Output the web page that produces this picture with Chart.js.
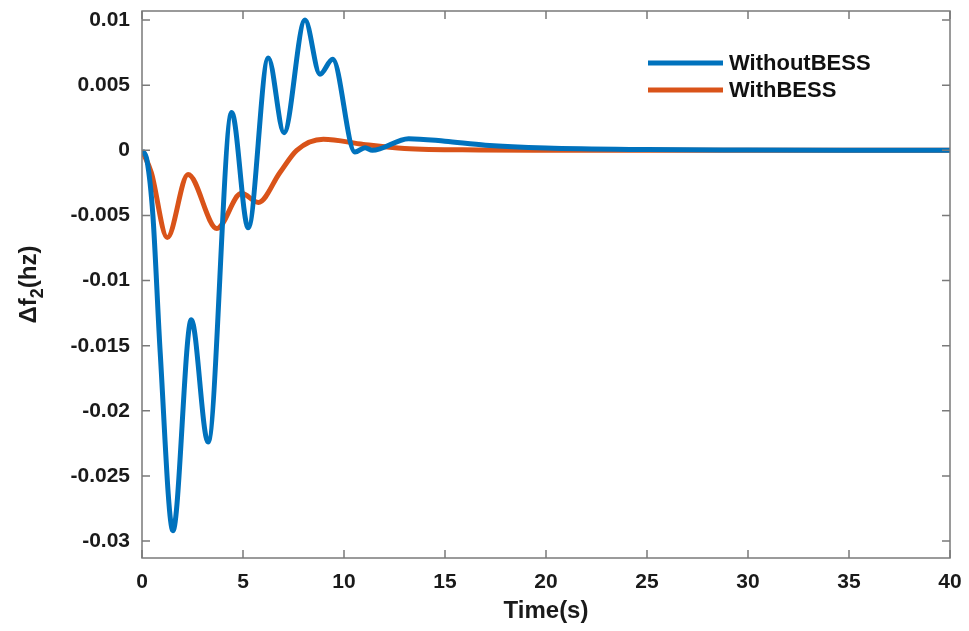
<!DOCTYPE html>
<html>
<head>
<meta charset="utf-8">
<script src="https://cdn.jsdelivr.net/npm/chart.js@4/dist/chart.umd.min.js"></script>
<style>
  html, body { margin: 0; padding: 0; background: #fff; }
  .chart_wrap { width: 969px; height: 631px; position: relative; }
</style>
</head>
<body>
<div class="chart_wrap"><canvas id="chart_freq"></canvas></div>
<script>
// time (s) and delta f2 (hz)
const tWithout = [0, 0.25, 0.54, 0.9, 1.53, 2.44, 3.27, 4.44, 5.26, 6.25, 7.03, 8.07, 8.81, 9.44, 10.54, 11.04, 11.4, 13.2, 15, 17, 20, 25, 30, 35, 40];
const vWithout = [0, -0.0008, -0.005, -0.0155, -0.0292, -0.013, -0.0224, 0.0029, -0.00595, 0.0071, 0.00136, 0.0100, 0.00585, 0.0070, -0.00013, 0.0002, 0.0, 0.0009, 0.0007, 0.0004, 0.00018, 0.00006, 0.00002, 0, 0];

const tWith = [0, 0.46, 1.25, 2.28, 3.71, 4.92, 5.76, 6.83, 7.66, 8.98, 10.96, 13, 16.7, 20, 25, 30, 40];
const vWith = [0, -0.0017, -0.0067, -0.00185, -0.006, -0.0033, -0.004, -0.0017, 0, 0.00085, 0.00046, 0.00015, 0.00003, 0.00001, 0, 0, 0];

const xTicks = [0, 5, 10, 15, 20, 25, 30, 35, 40];
const yTicks = [-0.03, -0.025, -0.02, -0.015, -0.01, -0.005, 0, 0.005, 0.01];
const yTickLabels = ['-0.03', '-0.025', '-0.02', '-0.015', '-0.01', '-0.005', '0', '0.005', '0.01'];

const FONT = '"Liberation Sans", Arial, sans-serif';
const AXIS_COLOR = '#7a7a7a';
const TEXT_COLOR = '#1a1a1a';

const toPoints = (ts, vs) => ts.map((t, i) => ({ x: t, y: vs[i] }));

// box around the axes + inward ticks like matlab
const boxPlugin = {
	id: 'box',
	afterDatasetsDraw(chart) {
		const { ctx, chartArea: a, scales } = chart;
		ctx.save();
		ctx.strokeStyle = AXIS_COLOR;
		ctx.lineWidth = 1.5;
		ctx.strokeRect(a.left, a.top, a.right - a.left, a.bottom - a.top);
		const len = 8;
		ctx.beginPath();
		xTicks.forEach(v => {
			const px = scales.x.getPixelForValue(v);
			ctx.moveTo(px, a.bottom);
			ctx.lineTo(px, a.bottom - len);
			ctx.moveTo(px, a.top);
			ctx.lineTo(px, a.top + len);
		});
		yTicks.forEach(v => {
			const py = scales.y.getPixelForValue(v);
			ctx.moveTo(a.left, py);
			ctx.lineTo(a.left + len, py);
			ctx.moveTo(a.right, py);
			ctx.lineTo(a.right - len, py);
		});
		ctx.stroke();
		ctx.restore();
	},
};

// y title with a real subscript
const yTitlePlugin = {
	id: 'yTitle',
	afterDraw(chart) {
		const { ctx, chartArea: a } = chart;
		const big = 'bold 24px ' + FONT;
		const small = 'bold 18px ' + FONT;
		ctx.save();
		ctx.fillStyle = TEXT_COLOR;
		ctx.textBaseline = 'alphabetic';
		ctx.textAlign = 'left';
		ctx.font = big;
		const w1 = ctx.measureText('Δf').width;
		const w3 = ctx.measureText('(hz)').width;
		ctx.font = small;
		const w2 = ctx.measureText('2').width;
		const total = w1 + w2 + w3;
		ctx.translate(36, (a.top + a.bottom) / 2);
		ctx.rotate(-Math.PI / 2);
		let x = -total / 2;
		ctx.font = big;
		ctx.fillText('Δf', x, 0);
		x += w1;
		ctx.font = small;
		ctx.fillText('2', x, 7);
		x += w2;
		ctx.font = big;
		ctx.fillText('(hz)', x, 0);
		ctx.restore();
	},
};

// legend inside the axes, top right, no frame
const legendPlugin = {
	id: 'insideLegend',
	afterDraw(chart) {
		const { ctx, chartArea: a } = chart;
		ctx.save();
		ctx.font = 'bold 22px ' + FONT;
		ctx.textBaseline = 'middle';
		ctx.textAlign = 'left';
		chart.data.datasets.forEach((ds, i) => {
			const y = a.top + 52 + i * 27;
			const x0 = a.right - 302;
			ctx.strokeStyle = ds.borderColor;
			ctx.lineWidth = 5;
			ctx.beginPath();
			ctx.moveTo(x0, y);
			ctx.lineTo(x0 + 75, y);
			ctx.stroke();
			ctx.fillStyle = '#111';
			ctx.fillText(ds.label, x0 + 81, y + 1);
		});
		ctx.restore();
	},
};

const freq = document.getElementById('chart_freq');

const chartFreq = new Chart(freq, {
	type: 'line',
	data: {
		datasets: [
			{
				label: 'WithoutBESS',
				data: toPoints(tWithout, vWithout),
				borderColor: '#0072BD',
				borderWidth: 5,
				pointRadius: 0,
				cubicInterpolationMode: 'monotone',
			},
			{
				label: 'WithBESS',
				data: toPoints(tWith, vWith),
				borderColor: '#D95319',
				borderWidth: 5,
				pointRadius: 0,
				cubicInterpolationMode: 'monotone',
			},
		],
	},
	plugins: [boxPlugin, yTitlePlugin, legendPlugin],
	options: {
		responsive: true,
		maintainAspectRatio: false,
		animation: false,
		layout: {
			padding: { top: 11, right: 19, left: 0, bottom: 0 },
		},
		plugins: {
			legend: { display: false },
			tooltip: { enabled: false },
		},
		scales: {
			x: {
				type: 'linear',
				min: 0,
				max: 40,
				afterBuildTicks: scale => {
					scale.ticks = xTicks.map(v => ({ value: v }));
				},
				afterFit: scale => {
					scale.height = 73;
					scale.paddingLeft = 0;
					scale.paddingRight = 0;
				},
				grid: { display: false, drawTicks: false },
				border: { display: false },
				ticks: {
					padding: 12,
					color: TEXT_COLOR,
					maxRotation: 0,
					font: { family: FONT, size: 21, weight: 'bold' },
				},
				title: {
					display: true,
					text: 'Time(s)',
					color: TEXT_COLOR,
					font: { family: FONT, size: 24, weight: 'bold' },
					padding: { top: 0, bottom: 5 },
				},
			},
			y: {
				type: 'linear',
				min: -0.0313,
				max: 0.0107,
				afterBuildTicks: scale => {
					scale.ticks = yTicks.map(v => ({ value: v }));
				},
				afterFit: scale => {
					scale.width = 142;
					scale.paddingTop = 0;
					scale.paddingBottom = 0;
				},
				grid: { display: false, drawTicks: false },
				border: { display: false },
				ticks: {
					padding: 12,
					color: TEXT_COLOR,
					font: { family: FONT, size: 21, weight: 'bold' },
					callback: (value, index) => yTickLabels[index],
				},
			},
		},
	},
});
</script>
</body>
</html>
